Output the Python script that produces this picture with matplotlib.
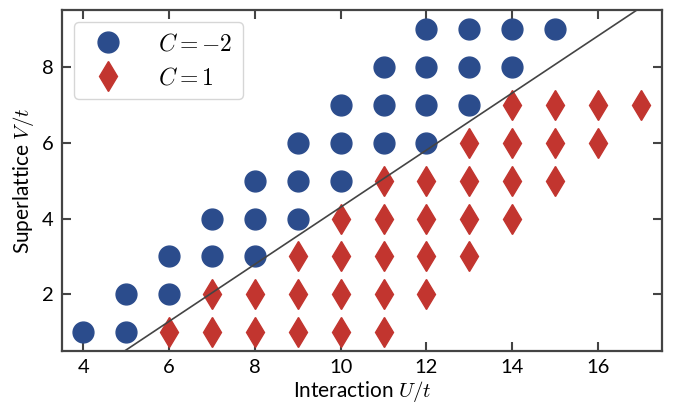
import numpy as np
import matplotlib
matplotlib.use("Agg")
import matplotlib.pyplot as plt

plt.rcParams['font.family'] = ['Lato', 'DejaVu Sans']
plt.rcParams['mathtext.fontset'] = 'cm'

# C = -2 phase (blue circles)
u_neg2 = [4, 5, 5, 6, 6, 7, 7, 8, 8, 8, 9, 9, 9, 10, 10, 10, 11, 11, 11,
          12, 12, 12, 12, 13, 13, 13, 14, 14, 15]
v_neg2 = [1, 1, 2, 2, 3, 3, 4, 3, 4, 5, 4, 5, 6, 5, 6, 7, 6, 7, 8,
          6, 7, 8, 9, 7, 8, 9, 8, 9, 9]

# C = 1 phase (red diamonds)
u_pos1 = [6, 7, 7, 8, 8, 9, 9, 9, 10, 10, 10, 10, 11, 11, 11, 11, 11,
          12, 12, 12, 12, 13, 13, 13, 13, 14, 14, 14, 14, 15, 15, 15, 16, 16, 17]
v_pos1 = [1, 1, 2, 1, 2, 1, 2, 3, 1, 2, 3, 4, 1, 2, 3, 4, 5,
          2, 3, 4, 5, 3, 4, 5, 6, 4, 5, 6, 7, 5, 6, 7, 6, 7, 7]

# boundary line V = slope * U + offset
slope = 0.753
offset = -3.23

blue = '#2b4c8c'
red = '#c2352f'

fig = plt.figure(figsize=(6.82, 4.05), dpi=100)
ax = fig.add_axes([0.091, 0.133, 0.880, 0.842])

ax.plot(u_neg2, v_neg2, 'o', color=blue, markersize=15, linestyle='none',
        label=r'$C=-2$', zorder=2)
ax.plot(u_pos1, v_pos1, 'd', color=red, markersize=15, linestyle='none',
        label=r'$C=1$', zorder=2)

uu = np.array([3, 18])
ax.plot(uu, slope * uu + offset, color='#444444', lw=1.2, zorder=3)

ax.set_xlim(3.5, 17.5)
ax.set_ylim(0.5, 9.5)
ax.set_xticks([4, 6, 8, 10, 12, 14, 16])
ax.set_yticks([2, 4, 6, 8])

ax.tick_params(direction='in', top=True, right=True, length=6.5, width=1.5,
               color='#444444', labelsize=14.5, pad=6)
for s in ax.spines.values():
    s.set_linewidth(1.6)
    s.set_color('#444444')

ax.set_xlabel(r'Interaction $U/t$', fontsize=15, labelpad=2)
ax.set_ylabel(r'Superlattice $V/t$', fontsize=15, labelpad=4)

ax.legend(loc='upper left', fontsize=17, labelspacing=0.5, handletextpad=1.1,
          borderpad=0.45, borderaxespad=0.5)

fig.savefig('out.png', dpi=100)
